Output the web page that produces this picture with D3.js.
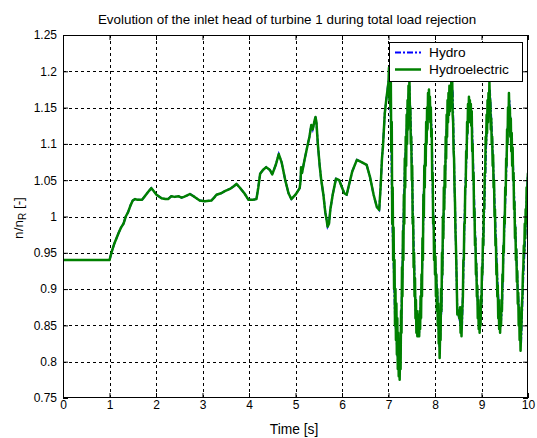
<!DOCTYPE html>
<html><head><meta charset="utf-8">
<script src="https://cdn.jsdelivr.net/npm/d3@7"></script>
<style>body{margin:0;background:#fff}svg{display:block}text{font-family:"Liberation Sans",Arial,Helvetica,sans-serif;fill:#000}</style>
</head><body><svg id="c" width="537" height="438"></svg>
<script>
// ---------------- data ----------------
const titleText = "Evolution of the inlet head of turbine 1 during total load rejection";
const xLabel = "Time [s]";
const seriesNames = ["Hydro", "Hydroelectric"];
const xTicks = [0,1,2,3,4,5,6,7,8,9,10];
const xTickLabels = ["0","1","2","3","4","5","6","7","8","9","10"];
const yTicks = [0.75,0.8,0.85,0.9,0.95,1,1.05,1.1,1.15,1.2,1.25];
const yTickLabels = ["0.75","0.8","0.85","0.9","0.95","1","1.05","1.1","1.15","1.2","1.25"];

// smooth part (0 - 7 s), both models overlap
const slowTime = [0,1.0,1.05,1.1,1.15,1.2,1.25,1.3,1.35,1.4,1.45,1.5,1.55,1.6,1.7,1.76,1.82,1.9,1.95,2.01,
  2.12,2.2,2.26,2.33,2.4,2.48,2.55,2.6,2.67,2.73,2.78,2.83,2.94,3.05,3.19,3.25,3.3,3.4,3.48,3.59,
  3.68,3.73,3.8,3.9,3.99,4.08,4.16,4.2,4.24,4.3,4.37,4.45,4.5,4.58,4.64,4.7,4.78,4.85,4.91,5.0,
  5.09,5.11,5.12,5.14,5.17,5.2,5.26,5.3,5.34,5.37,5.39,5.41,5.43,5.45,5.48,5.52,5.55,5.6,5.64,5.67,
  5.69,5.72,5.75,5.8,5.87,5.94,6.0,6.05,6.1,6.16,6.22,6.32,6.42,6.53,6.6,6.68,6.75,6.8,6.83,6.86,
  6.88,6.92,6.95,6.98];
const slowHead = [0.94,0.94,0.952,0.962,0.97,0.978,0.985,0.99,1.0,1.006,1.015,1.022,1.024,1.023,1.023,1.028,1.033,1.039,1.035,1.03,
  1.025,1.024,1.024,1.028,1.027,1.028,1.026,1.027,1.029,1.031,1.029,1.027,1.022,1.021,1.022,1.026,1.03,1.032,1.035,1.038,
  1.042,1.045,1.04,1.032,1.023,1.023,1.024,1.04,1.059,1.064,1.068,1.064,1.058,1.072,1.086,1.075,1.05,1.032,1.024,1.03,
  1.039,1.05,1.068,1.06,1.07,1.08,1.098,1.11,1.126,1.12,1.126,1.132,1.137,1.13,1.1,1.07,1.052,1.03,1.006,0.995,
  0.986,0.99,1.01,1.03,1.052,1.05,1.04,1.032,1.03,1.046,1.062,1.078,1.075,1.071,1.055,1.03,1.013,1.009,1.04,1.08,
  1.096,1.142,1.16,1.175];

// Hydroelectric, oscillating part sampled every 0.01 s from 7.00 s to 10.00 s
const fastStart = 7.0, fastStep = 0.01;
const fastHydroelectric = [
  1.185,1.205,1.16,1.195,1.15,1.185,1.09,1.13,0.99,1.04,
  0.94,0.985,0.90,0.94,0.85,0.90,0.83,0.88,0.81,0.86,
  0.79,0.84,0.78,0.81,0.775,0.82,0.79,0.87,0.84,0.93,
  0.89,0.98,0.94,1.03,0.99,1.08,1.04,1.11,1.07,1.14,
  1.10,1.16,1.12,1.18,1.14,1.19,1.15,1.15,1.10,1.11,
  1.05,1.07,0.99,1.00,0.93,0.95,0.89,0.915,0.86,0.885,
  0.84,0.87,0.835,0.865,0.835,0.86,0.835,0.87,0.845,0.89,
  0.86,0.92,0.89,0.97,0.94,1.03,1.00,1.07,1.04,1.10,
  1.07,1.13,1.10,1.15,1.12,1.17,1.135,1.175,1.145,1.165,
  1.13,1.15,1.11,1.12,1.05,1.06,0.99,1.00,0.94,0.965,
  0.92,0.945,0.89,0.92,0.87,0.90,0.85,0.88,0.825,0.85,
  0.805,0.84,0.83,0.90,0.87,0.95,0.92,1.00,0.97,1.04,
  1.01,1.07,1.04,1.11,1.08,1.14,1.11,1.16,1.13,1.17,
  1.14,1.18,1.145,1.18,1.15,1.185,1.155,1.19,1.14,1.13,
  1.09,1.08,1.04,1.02,0.98,0.96,0.93,0.90,0.865,0.87,
  0.865,0.87,0.86,0.86,0.875,0.84,0.87,0.835,0.86,0.875,
  0.89,0.94,0.94,0.99,0.99,1.04,1.04,1.09,1.08,1.13,
  1.115,1.155,1.13,1.165,1.135,1.16,1.13,1.155,1.125,1.145,
  1.09,1.10,1.05,1.06,1.00,1.01,0.96,0.97,0.92,0.935,
  0.89,0.905,0.86,0.885,0.845,0.87,0.84,0.865,0.85,0.89,
  0.88,0.93,0.92,0.97,0.96,1.01,1.01,1.06,1.06,1.11,
  1.10,1.14,1.115,1.16,1.13,1.17,1.145,1.185,1.16,1.16,
  1.12,1.135,1.10,1.11,1.07,1.085,1.04,1.05,1.00,1.01,
  0.96,0.97,0.92,0.935,0.89,0.905,0.86,0.885,0.845,0.87,
  0.84,0.86,0.85,0.885,0.87,0.92,0.91,0.96,0.95,1.00,
  0.99,1.04,1.03,1.08,1.07,1.12,1.10,1.15,1.12,1.17,
  1.14,1.15,1.11,1.135,1.09,1.115,1.07,1.095,1.05,1.06,
  1.01,1.02,0.97,0.985,0.94,0.955,0.91,0.925,0.88,0.895,
  0.85,0.875,0.83,0.855,0.815,0.84,0.85,0.88,0.89,0.92,
  0.93,0.96,0.95,0.99,0.97,1.01,0.99,1.04,1.02,1.05,
  1.06];

// Hydro, oscillating part
const fastHydroTime = [7.0,7.03,7.06,7.08,7.1,7.12,7.14,7.17,7.2,7.23,7.26,7.29,7.32,7.35,7.39,7.42,7.45,7.48,7.5,7.53,
  7.57,7.6,7.63,7.66,7.71,7.74,7.76,7.79,7.82,7.85,7.88,7.93,7.96,8.0,8.05,8.08,8.1,8.14,8.18,8.21,
  8.25,8.3,8.35,8.38,8.41,8.45,8.48,8.52,8.55,8.58,8.61,8.65,8.7,8.74,8.79,8.82,8.86,8.9,8.93,8.97,
  9.0,9.05,9.11,9.15,9.18,9.22,9.25,9.29,9.33,9.36,9.41,9.44,9.47,9.52,9.56,9.6,9.63,9.68,9.73,9.78,
  9.83,9.85,9.9,9.94,9.97,10.0];
const fastHydro = [1.188,1.195,1.1,1.0,0.955,0.915,0.862,0.835,0.805,0.785,0.815,0.9,0.99,1.065,1.12,1.155,1.18,1.125,1.08,0.99,
  0.895,0.85,0.848,0.84,0.9,0.965,1.035,1.085,1.12,1.15,1.165,1.12,1.005,0.94,0.895,0.845,0.82,0.875,0.99,1.045,
  1.12,1.16,1.17,1.175,1.075,0.96,0.87,0.86,0.852,0.845,0.92,1.035,1.12,1.15,1.14,1.075,0.985,0.91,0.868,0.852,
  0.885,0.99,1.12,1.155,1.175,1.12,1.075,1.005,0.93,0.89,0.848,0.872,0.945,1.035,1.115,1.16,1.12,1.07,0.98,0.9,
  0.845,0.825,0.92,0.97,1.02,1.06];

// ---------------- drawing ----------------
const svg = d3.select("#c");
const L = 63, R = 528, T = 35, B = 398;
const x = d3.scaleLinear().domain([0,10]).range([L,R]);
const y = d3.scaleLinear().domain([0.75,1.25]).range([B,T]);
const px = v => Math.round(v) + 0.5;

svg.append("rect").attr("width",537).attr("height",438).attr("fill","#fff");
svg.append("rect").attr("x",L).attr("y",T).attr("width",R-L).attr("height",B-T).attr("fill","#fff");

// grid
const grid = svg.append("g").attr("stroke","#000").attr("stroke-width",1).attr("stroke-dasharray","3,3");
grid.selectAll("line.v").data(xTicks.slice(1,-1)).join("line").attr("class","v")
  .attr("x1",d=>px(x(d))).attr("x2",d=>px(x(d))).attr("y1",T).attr("y2",B);
grid.selectAll("line.h").data(yTicks.slice(1,-1)).join("line").attr("class","h")
  .attr("y1",d=>px(y(d))).attr("y2",d=>px(y(d))).attr("x1",L).attr("x2",R);

// data
svg.append("clipPath").attr("id","pc").append("rect")
  .attr("x",L).attr("y",T).attr("width",R-L).attr("height",B-T);
const slowPts = slowTime.map((t,i)=>({t, v: slowHead[i]}));
const hydroPts = slowPts.concat(fastHydroTime.map((t,i)=>({t, v: fastHydro[i]})));
const hePts = slowPts.concat(fastHydroelectric.map((v,i)=>({t: fastStart + i*fastStep, v})));
const line = d3.line().x(d=>x(d.t)).y(d=>y(d.v));
const plot = svg.append("g").attr("clip-path","url(#pc)");
plot.append("path").datum(hydroPts).attr("d",line).attr("fill","none")
  .attr("stroke","#0000ff").attr("stroke-width",2).attr("stroke-dasharray","6,2,2,2");
plot.append("path").datum(hePts).attr("d",line).attr("fill","none")
  .attr("stroke","#008000").attr("stroke-width",2.5).attr("stroke-linejoin","round");

// axes (MATLAB style: inward ticks on all sides)
const fontFam = '"Liberation Sans",Arial,Helvetica,sans-serif';
function styleAxis(g){ g.attr("font-family",fontFam).attr("font-size",12);
  g.select(".domain").remove(); g.selectAll("line").attr("stroke","#000"); g.selectAll("text").attr("fill","#000"); }
svg.append("g").attr("transform",`translate(0,${B})`)
  .call(d3.axisBottom(x).tickValues(xTicks).tickFormat((d,i)=>xTickLabels[i]).tickSize(-5).tickPadding(2).tickSizeOuter(0))
  .call(styleAxis);
svg.append("g").attr("transform",`translate(0,${T})`)
  .call(d3.axisTop(x).tickValues(xTicks).tickFormat("").tickSize(-5).tickSizeOuter(0)).call(styleAxis);
svg.append("g").attr("transform",`translate(${L},0)`)
  .call(d3.axisLeft(y).tickValues(yTicks).tickFormat((d,i)=>yTickLabels[i]).tickSize(-5).tickPadding(6).tickSizeOuter(0))
  .call(styleAxis);
svg.append("g").attr("transform",`translate(${R},0)`)
  .call(d3.axisRight(y).tickValues(yTicks).tickFormat("").tickSize(-5).tickSizeOuter(0)).call(styleAxis);

// frame
svg.append("rect").attr("x",L+0.5).attr("y",T+0.5).attr("width",R-L-1).attr("height",B-T-1)
  .attr("fill","none").attr("stroke","#000").attr("stroke-width",1);

// title & labels
svg.append("text").attr("x",287).attr("y",24).attr("text-anchor","middle").attr("font-size",13.4).text(titleText);
svg.append("text").attr("x",294).attr("y",434).attr("text-anchor","middle").attr("font-size",13.8).text(xLabel);
const yl = svg.append("text").attr("transform","translate(23,218) rotate(-90)").attr("text-anchor","middle").attr("font-size",13.5);
yl.append("tspan").text("n/n");
yl.append("tspan").attr("dy",3).attr("font-size",10).text("R");
yl.append("tspan").attr("dy",-3).text(" [-]");

// legend
const lg = svg.append("g");
lg.append("rect").attr("x",389.5).attr("y",42.5).attr("width",133).attr("height",39)
  .attr("fill","#fff").attr("stroke","#000").attr("stroke-width",1);
const legendItems = [
  {name: seriesNames[0], color:"#0000ff", w:2, dash:"6,2,2,2", yy:52.5},
  {name: seriesNames[1], color:"#008000", w:2.5, dash:null, yy:69.5}];
legendItems.forEach(it=>{
  lg.append("line").attr("x1",395).attr("x2",421).attr("y1",it.yy).attr("y2",it.yy)
    .attr("stroke",it.color).attr("stroke-width",it.w).attr("stroke-dasharray",it.dash);
  lg.append("text").attr("x",429).attr("y",it.yy+4.5).attr("font-size",13.7).text(it.name);
});
</script></body></html>
